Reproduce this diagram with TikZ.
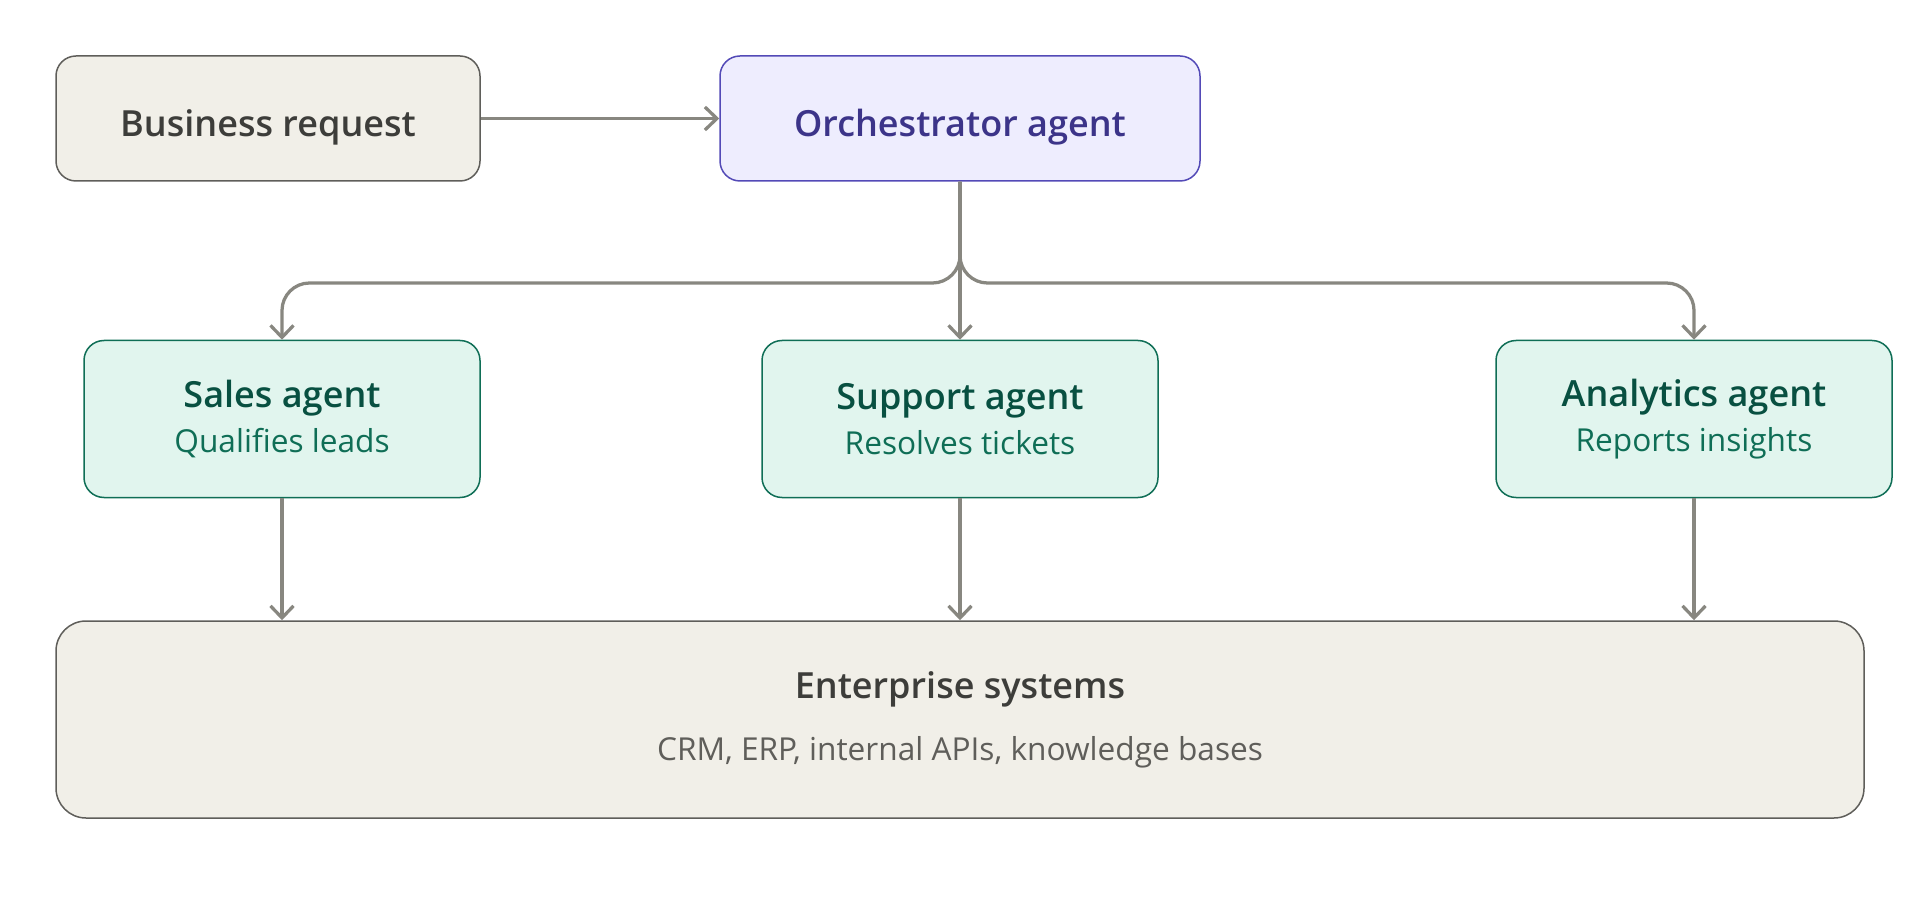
\documentclass[tikz,border=0pt]{standalone}
\usepackage{fontspec}
\setmainfont{Open Sans}[BoldFont={Open Sans Semibold}]
\usetikzlibrary{arrows.meta}
\definecolor{grayfill}{HTML}{F1EFE8}
\definecolor{grayline}{HTML}{5F5E5A}
\definecolor{graytext}{HTML}{3D3D3A}
\definecolor{graysub}{HTML}{5F5E5A}
\definecolor{purplefill}{HTML}{EEEDFE}
\definecolor{purpleline}{HTML}{534AB7}
\definecolor{purpletext}{HTML}{3C3489}
\definecolor{tealfill}{HTML}{E1F5EE}
\definecolor{tealline}{HTML}{0F6E56}
\definecolor{tealtext}{HTML}{085041}
\definecolor{arrowgray}{HTML}{888780}
\newcommand{\boxtitle}{\fontsize{20.5}{24}\selectfont\bfseries}
\newcommand{\boxsub}{\fontsize{18}{22}\selectfont}
\begin{document}
\begin{tikzpicture}
    \tikzset{box/.style = {shape = rectangle,rounded corners = 0.4cm,line width = 0.03cm,align = center,inner sep = 0pt},
      graybox/.style = {box,fill=grayfill,draw=grayline,text=graytext},
      orchbox/.style = {box,fill=purplefill,draw=purpleline,text=purpletext},
      agentbox/.style = {box,fill=tealfill,draw=tealline,text=tealtext,minimum width=7.92cm,minimum height=3.14cm},
      toprow/.style = {minimum height=2.5cm,text height=0.74cm,text depth=0pt},
      flow/.style = {line width=0.065cm,draw=arrowgray,-{Straight Barb[length=0.24cm,width=0.46cm]}}}
    \useasboundingbox (0,0) rectangle (38.4,-18.08);
    \def\y{-8.38}
     % top row
     \node[graybox,toprow,minimum width=8.48cm] (Req) at (5.36,-2.37) {\boxtitle Business request};
     \node[orchbox,toprow,minimum width=9.6cm] (Orch) at (19.2,-2.37) {\boxtitle Orchestrator agent};
     % agents
     \node[agentbox] (Sales) at (5.64,\y) {{\boxtitle Sales agent}\\[0.22cm]{\boxsub\color{tealline}Qualifies leads}};
     \node[agentbox] (Support) at (19.2,\y) {{\boxtitle Support agent}\\[0.22cm]{\boxsub\color{tealline}Resolves tickets}};
     \node[agentbox] (Analytics) at (33.88,\y) {{\boxtitle Analytics agent}\\[0.22cm]{\boxsub\color{tealline}Reports insights}};
     % systems
     \node[graybox,rounded corners=0.6cm,minimum width=36.16cm,minimum height=3.94cm] (Sys) at (19.2,-14.39) {{\boxtitle Enterprise systems}\\[0.55cm]{\boxsub\color{graysub}CRM, ERP, internal APIs, knowledge bases}};
     \coordinate (split) at (19.2,-5.66);

    \draw[flow](Req) --(Orch);
    \draw[flow,rounded corners=0.55cm](Orch.south) --(split) -| (Sales.north);
    \draw[flow](Orch.south) --(Support.north);
    \draw[flow,rounded corners=0.55cm](Orch.south) --(split) -| (Analytics.north);
    \draw[flow](Sales.south) --(Sales.south |- Sys.north);
    \draw[flow](Support.south) --(Sys.north);
    \draw[flow](Analytics.south) --(Analytics.south |- Sys.north);
\end{tikzpicture}
\end{document}
